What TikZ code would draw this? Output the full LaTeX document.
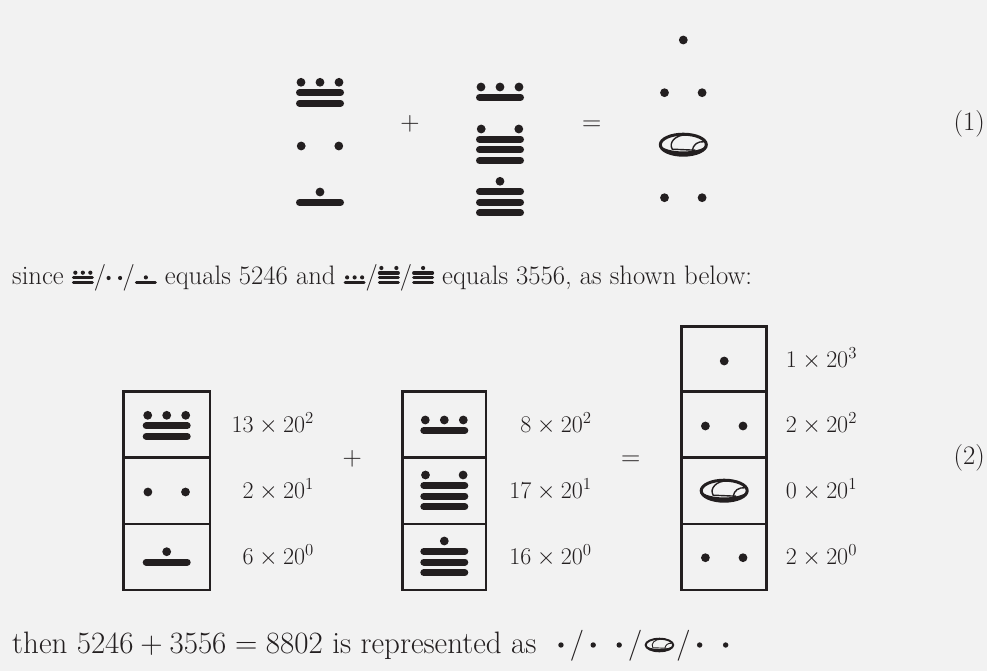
\RequirePackage{fix-cm}
\documentclass[tikz,border=0pt]{standalone}
\definecolor{bg}{HTML}{F2F2F2}
\definecolor{ink}{HTML}{231F20}

% big Maya numeral: x, y of dot row, number of dots, number of bars
\newcommand{\mayan}[4]{%
  \ifcase#3\relax\or
    \fill[ink] (#1,#2) circle (4.4pt);
  \or
    \fill[ink] (#1-18.8,#2) circle (4.4pt) (#1+18.8,#2) circle (4.4pt);
  \or
    \fill[ink] (#1-19,#2) circle (4.4pt) (#1,#2) circle (4.4pt) (#1+19,#2) circle (4.4pt);
  \fi
  \ifnum#4>0\relax
    \foreach \k in {1,...,#4}{\draw[ink,line width=7pt,line cap=round] (#1-20.5,{#2+10.4+10.6*(\k-1)}) -- (#1+20.5,{#2+10.4+10.6*(\k-1)});}
  \fi}

% shell (zero) glyph, y pointing down, line width factor #1
\newcommand{\shellbody}[1]{%
  \fill[ink] (-23.5,0) .. controls (-20,15) and (20,15) .. (23.5,0) .. controls (18,9) and (-18,9) .. cycle;
  \draw[ink,line width=#1*3pt] (-23,0) .. controls (-23,-5.8) and (-12.7,-10.5) .. (0,-10.5) .. controls (12.7,-10.5) and (23,-5.8) .. (23,0) .. controls (23,5.8) and (12.7,10.5) .. (0,10.5) .. controls (-12.7,10.5) and (-23,5.8) .. (-23,0) -- cycle;
  \draw[ink,line width=#1*1.4pt] (3,-9.8) .. controls (-8,-10) and (-15,-2) .. (-11,4.5) -- (12,5.5);
  \draw[ink,line width=#1*1.4pt] (9,5.5) .. controls (10,0) and (14,-3.5) .. (21,-3);}
\newcommand{\shellglyph}[2]{%
  \begin{scope}[shift={(#1,#2)}]\shellbody{1}\end{scope}}

% inline small numerals
\newcommand{\mibar}[2]{\tikz[x=1pt,y=1pt,baseline=0pt]{%
  \useasboundingbox (0,0) rectangle (22,1);
  \foreach \k in {1,...,#2}{\draw[ink,line width=3.2pt,line cap=round] (1.6,{1.6+4.7*(\k-1)}) -- (20.4,{1.6+4.7*(\k-1)});}
  \ifcase#1\or
    \fill[ink] (11,{1.9+4.7*#2}) circle (2.1pt);
  \or
    \fill[ink] (3.5,{1.9+4.7*#2}) circle (2.1pt) (18.5,{1.9+4.7*#2}) circle (2.1pt);
  \or
    \fill[ink] (3.5,{1.9+4.7*#2}) circle (2.1pt) (11,{1.9+4.7*#2}) circle (2.1pt) (18.5,{1.9+4.7*#2}) circle (2.1pt);
  \fi}}
\newcommand{\midots}[1]{\tikz[x=1pt,y=1pt,baseline=0pt]{%
  \useasboundingbox (0,0) rectangle ({(#1-1)*11.5+5},1);
  \foreach \i in {1,...,#1}{\fill[ink] ({2.5+11.5*(\i-1)},6) circle (2.1pt);}}}
% larger dots for the last line
\newcommand{\mbdots}[1]{\tikz[x=1pt,y=1pt,baseline=0pt]{%
  \useasboundingbox (0,0) rectangle ({(#1-1)*26+18},1);
  \foreach \i in {1,...,#1}{\fill[ink] ({9+26*(\i-1)},8) circle (2.7pt);}}}
\newcommand{\shellsmall}{\tikz[x=1pt,y=1pt,baseline=0pt]{%
  \useasboundingbox (0,0) rectangle (34,1);
  \begin{scope}[shift={(17,8)},x=0.6pt,y=-0.6pt]\shellbody{0.65}\end{scope}}}

\begin{document}
\begin{tikzpicture}[x=1pt,y=-1pt,
  txt/.style={font=\fontsize{26.7}{32}\selectfont, inner sep=0pt, text=ink},
  bigtxt/.style={font=\fontsize{31}{37}\selectfont, inner sep=0pt, text=ink},
  lbl/.style={font=\fontsize{24}{28}\selectfont, inner sep=0pt, text=ink},
  cellbox/.style={draw=ink, line width=2.7pt}]
\fill[bg] (0,0) rectangle (987,671);
\useasboundingbox (0,0) rectangle (987,671);

% ---- equation (1)
\mayan{320}{82.3}{3}{2}
\mayan{320}{146}{2}{0}
\mayan{320}{192}{1}{1}
\node[txt,anchor=base] (plusA) at (410,131) {$+$};
\mayan{500}{87}{3}{1}
\mayan{500}{129}{2}{3}
\mayan{500}{181.3}{1}{3}
\node[txt,anchor=base] (eqA) at (591.7,131) {$=$};
\mayan{683.3}{40}{1}{0}
\mayan{683.3}{92.7}{2}{0}
\shellglyph{683.3}{144.7}
\mayan{683.3}{197.7}{2}{0}
\node[txt,anchor=east] (tagA) at (985,124.3) {(1)};

% ---- text line
\node[txt,anchor=base west] (since) at (12,284) {since \mibar{3}{2}/\midots{2}/\mibar{1}{1} equals 5246 and \mibar{3}{1}/\mibar{2}{3}/\mibar{1}{3} equals 3556, as shown below:};

% ---- equation (2): boxes
\draw[cellbox] (123.3,391.7) rectangle (210,590) (123.3,457.7) -- (210,457.7) (123.3,524) -- (210,524);
\draw[cellbox] (402.7,391.7) rectangle (486,590) (402.7,457.7) -- (486,457.7) (402.7,524) -- (486,524);
\draw[cellbox] (681.7,326.7) rectangle (766.7,590) (681.7,391.7) -- (766.7,391.7) (681.7,457.7) -- (766.7,457.7) (681.7,524) -- (766.7,524);

\mayan{166.7}{415.3}{3}{2}
\mayan{166.7}{492}{2}{0}
\mayan{166.7}{551.7}{1}{1}
\node[lbl,anchor=base east] (la) at (314,432.7) {$13\times20^2$};
\node[lbl,anchor=base east] (lb) at (314,498.5) {$2\times20^1$};
\node[lbl,anchor=base east] (lc) at (314,564.7) {$6\times20^0$};

\node[txt,anchor=base] (plusB) at (352.3,465) {$+$};

\mayan{444.3}{420}{3}{1}
\mayan{444.3}{475}{2}{3}
\mayan{444.3}{541}{1}{3}
\node[lbl,anchor=base east] (ma) at (591.7,432.7) {$8\times20^2$};
\node[lbl,anchor=base east] (mb) at (591.7,498.5) {$17\times20^1$};
\node[lbl,anchor=base east] (mc) at (591.7,564.7) {$16\times20^0$};

\node[txt,anchor=base] (eqB) at (630.7,465) {$=$};

\mayan{724.2}{361}{1}{0}
\mayan{724.2}{426}{2}{0}
\shellglyph{724.2}{490.7}
\mayan{724.2}{557.7}{2}{0}
\node[lbl,anchor=base west] (ra) at (785.7,367) {$1\times20^3$};
\node[lbl,anchor=base west] (rb) at (785.7,432.7) {$2\times20^2$};
\node[lbl,anchor=base west] (rc) at (785.7,498.5) {$0\times20^1$};
\node[lbl,anchor=base west] (rd) at (785.7,564.7) {$2\times20^0$};

\node[txt,anchor=east] (tagB) at (985,458.3) {(2)};

% ---- bottom line
\node[bigtxt,anchor=base west] (then) at (12,653) {then $5246+3556=8802$ is represented as\enspace\mbdots{1}/\mbdots{2}/\shellsmall/\mbdots{2}};
\end{tikzpicture}
\end{document}
